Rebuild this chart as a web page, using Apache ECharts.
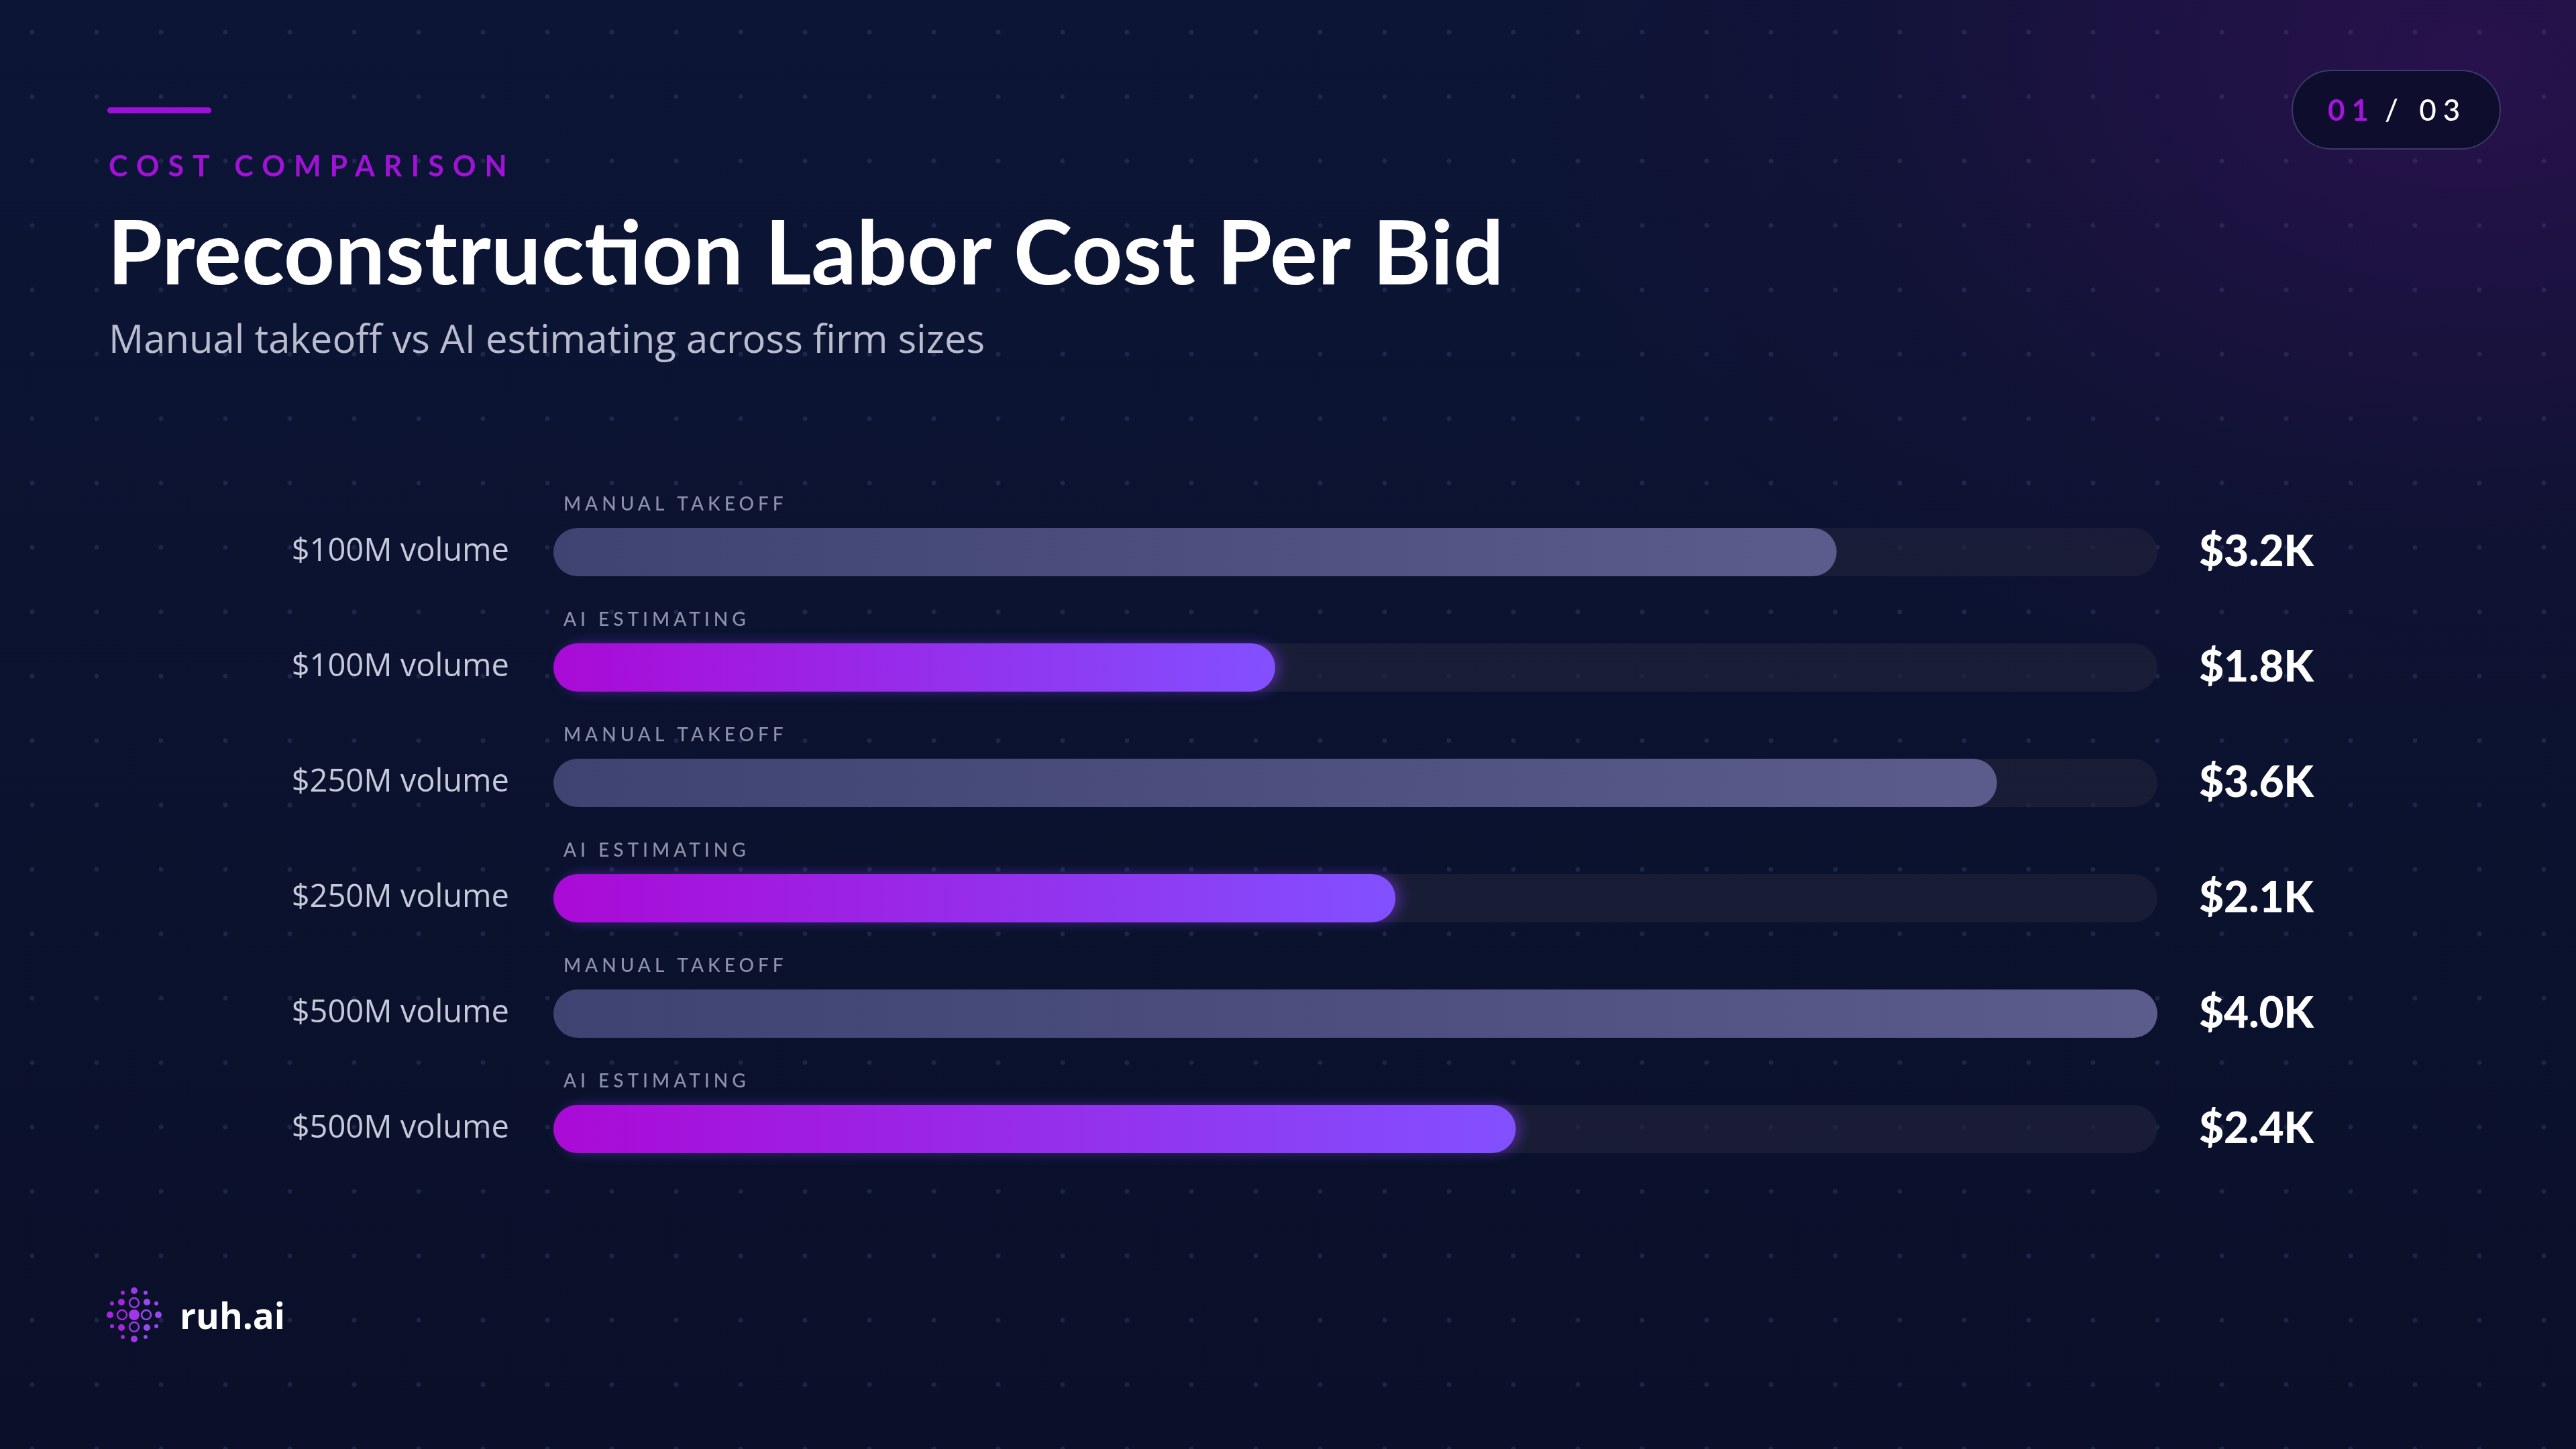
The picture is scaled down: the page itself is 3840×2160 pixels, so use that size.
<!DOCTYPE html>
<html>
<head>
<meta charset="utf-8">
<script src="https://cdn.jsdelivr.net/npm/echarts@6/dist/echarts.min.js"></script>
<style>
  html, body { margin: 0; padding: 0; }
  body {
    width: 3840px; height: 2160px; overflow: hidden;
    background:
      radial-gradient(circle, rgba(78,88,140,0.28) 3px, transparent 4px) 0 0 / 96px 96px,
      radial-gradient(ellipse 1700px 1200px at 96% 4%, rgba(52,16,86,0.70), rgba(34,14,62,0.25) 55%, transparent 85%),
      linear-gradient(180deg, #0c1536 0%, #0a1029 100%);
  }
  #chart { position: absolute; left: 0; top: 0; width: 3840px; height: 2160px; }
</style>
</head>
<body>
<div id="chart"></div>
<script>
// data
var categories = ['$100M volume', '$100M volume', '$250M volume', '$250M volume', '$500M volume', '$500M volume'];
var seriesTags = ['MANUAL TAKEOFF', 'AI ESTIMATING', 'MANUAL TAKEOFF', 'AI ESTIMATING', 'MANUAL TAKEOFF', 'AI ESTIMATING'];
var costs = [3200, 1800, 3600, 2100, 4000, 2400];
var kinds = ['manual', 'ai', 'manual', 'ai', 'manual', 'ai'];

// zrender has no letter spacing, so a family name like "sp6x" asks for 6px
var _fillText = CanvasRenderingContext2D.prototype.fillText;
CanvasRenderingContext2D.prototype.fillText = function () {
  var m = /sp(\d+)x/.exec(this.font);
  this.letterSpacing = m ? m[1] + 'px' : '0px';
  return _fillText.apply(this, arguments);
};

var manualColor = new echarts.graphic.LinearGradient(0, 0, 1, 0, [
  { offset: 0, color: '#3e4371' }, { offset: 1, color: '#5b5c8c' }
]);
var aiColor = new echarts.graphic.LinearGradient(0, 0, 1, 0, [
  { offset: 0, color: '#aa0ad6' }, { offset: 1, color: '#8250ff' }
]);

var barData = costs.map(function (v, i) {
  var ai = kinds[i] == 'ai';
  return {
    value: v,
    itemStyle: {
      color: ai ? aiColor : manualColor,
      shadowColor: ai ? 'rgba(140,60,255,0.40)' : 'transparent',
      shadowBlur: ai ? 18 : 0,
      shadowOffsetX: ai ? 8 : 0
    }
  };
});

function fmtK(v) { return '$' + (v / 1000).toFixed(1) + 'K'; }

// logo dots, offsets from the logo centre
var logoDots = [
  [0, 0, 8, 1],
  [-18, 0, 7, 0], [18, 0, 7, 0], [0, -18, 7, 0], [0, 18, 7, 0],
  [-19, -19, 5, 1], [19, -19, 5, 1], [-19, 19, 5, 1], [19, 19, 5, 1],
  [-36, 0, 5, 1], [36, 0, 5, 1], [0, -36, 5, 1], [0, 36, 5, 1],
  [-17, -33, 3, 1], [17, -33, 3, 1], [-17, 33, 3, 1], [17, 33, 3, 1],
  [-33, -17, 3, 1], [33, -17, 3, 1], [-33, 17, 3, 1], [33, 17, 3, 1]
];
var logoEls = logoDots.map(function (d) {
  var c = d[0] < 0 ? '#a526e0' : (d[0] > 0 ? '#9848f0' : '#a036e8');
  return {
    type: 'circle',
    shape: { cx: 200 + d[0], cy: 1960 + d[1], r: d[2] },
    style: d[3] ? { fill: c } : { fill: 'none', stroke: c, lineWidth: 2.5 }
  };
});

var chart = echarts.init(document.getElementById('chart'), null, { renderer: 'canvas' });

var option = {
  backgroundColor: 'transparent',
  animation: false,
  grid: { left: 825, right: 624, top: 737, height: 1032 },
  xAxis: { type: 'value', min: 0, max: 4000, show: false },
  yAxis: [{
    type: 'category',
    data: categories,
    inverse: true,
    axisLine: { show: false },
    axisTick: { show: false },
    axisLabel: { margin: 66, color: '#c6c9d9', fontSize: 47, fontFamily: 'Open Sans' }
  }, {
    type: 'category',
    data: costs.map(fmtK),
    inverse: true,
    position: 'right',
    axisLine: { show: false },
    axisTick: { show: false },
    axisLabel: { margin: 62, color: '#ffffff', fontSize: 64, fontWeight: 900, fontFamily: 'Lato', align: 'left' }
  }],
  series: [{
    type: 'bar',
    data: barData,
    barWidth: 72,
    showBackground: true,
    backgroundStyle: { color: 'rgba(34,36,58,0.62)', borderRadius: 36 },
    itemStyle: { borderRadius: 36 },
    label: {
      show: true,
      position: [15, -35],
      align: 'left',
      verticalAlign: 'middle',
      formatter: function (p) { return seriesTags[p.dataIndex]; },
      color: '#8d91ab',
      fontSize: 28,
      fontWeight: 500,
      fontFamily: 'sp6x, Lato'
    }
  }],
  graphic: [
    { type: 'rect', shape: { x: 160, y: 160, width: 155, height: 9, r: 4.5 }, style: { fill: '#a00fd8' } },
    { type: 'text', x: 162, y: 249, style: { text: 'COST COMPARISON', fontSize: 43, fontWeight: 700, fontFamily: 'sp13x, Lato', fill: '#a012d6', textVerticalAlign: 'middle' } },
    { type: 'text', x: 160, y: 381, style: { text: 'Preconstruction Labor Cost Per Bid', fontSize: 133, fontWeight: 700, fontFamily: 'Lato', fill: '#ffffff', textVerticalAlign: 'middle' } },
    { type: 'text', x: 162, y: 509, style: { text: 'Manual takeoff vs AI estimating across firm sizes', fontSize: 58, fontFamily: 'Open Sans', fill: '#b9bccd', textVerticalAlign: 'middle' } },
    { type: 'rect', shape: { x: 3417, y: 105, width: 310, height: 117, r: 58.5 }, style: { fill: '#0f0d2d', stroke: '#383c6a', lineWidth: 2 } },
    { type: 'text', x: 3470, y: 166, style: { text: '01', fontSize: 44, fontWeight: 700, fontFamily: 'sp10x, Lato', fill: '#a514dc', textVerticalAlign: 'middle' } },
    { type: 'text', x: 3555, y: 166, style: { text: '/ 03', fontSize: 44, fontWeight: 500, fontFamily: 'sp10x, Lato', fill: '#ffffff', textVerticalAlign: 'middle' } },
    { type: 'group', children: logoEls },
    { type: 'text', x: 268, y: 1966, style: { text: 'ruh.ai', fontSize: 53, fontWeight: 700, fontFamily: 'Open Sans', fill: '#ffffff', textVerticalAlign: 'middle' } }
  ]
};

chart.setOption(option);
</script>
</body>
</html>
